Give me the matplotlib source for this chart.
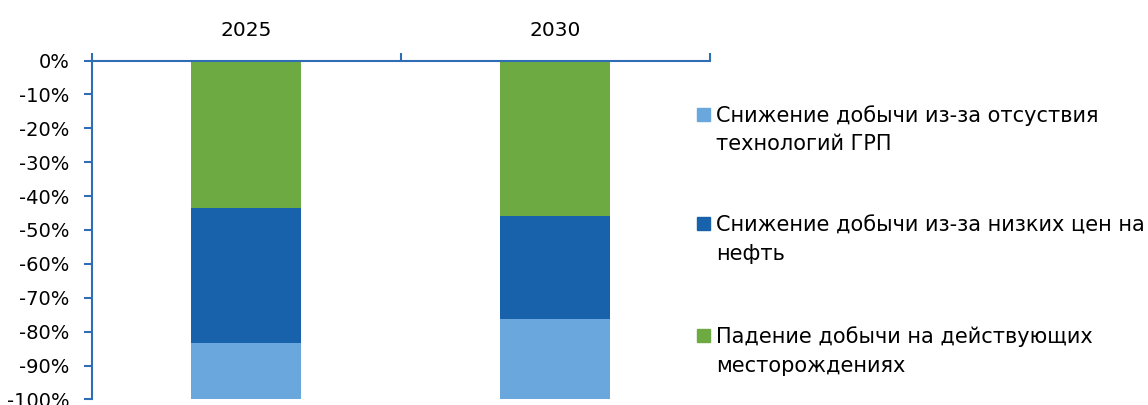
import matplotlib.pyplot as plt
from matplotlib.ticker import FuncFormatter
from matplotlib.patches import Rectangle

years = ['2025', '2030']
# доли падения добычи, %
fall_existing = [-43.6, -45.9]      # Падение добычи на действующих месторождениях
low_prices = [-39.6, -30.4]         # Снижение добычи из-за низких цен на нефть
no_frac = [-16.8, -23.7]            # Снижение добычи из-за отсуствия технологий ГРП

labels = ['Снижение добычи из-за отсуствия\nтехнологий ГРП',
          'Снижение добычи из-за низких цен на\nнефть',
          'Падение добычи на действующих\nместорождениях']
colors = ['#69A7DC', '#1762AB', '#6EAA42']
axis_color = '#2F6DB5'

plt.rcParams['font.family'] = ['DejaVu Sans']

W, H = 1148, 405
fig = plt.figure(figsize=(W / 100, H / 100), dpi=100)
ax = fig.add_axes([0.0799, 0.0136, 0.5386, 0.837])

x = range(len(years))
w = 0.356
ax.bar(x, fall_existing, w, color=colors[2])
bottom2 = fall_existing
ax.bar(x, low_prices, w, bottom=bottom2, color=colors[1])
bottom3 = [a + b for a, b in zip(fall_existing, low_prices)]
ax.bar(x, no_frac, w, bottom=bottom3, color=colors[0])

ax.set_xlim(-0.5, 1.5)
ax.set_ylim(-100, 0)
ax.set_yticks(range(-100, 1, 10))
ax.yaxis.set_major_formatter(FuncFormatter(lambda v, p: '%d%%' % v))

ax.xaxis.tick_top()
ax.set_xticks(list(x))
ax.set_xticklabels(years)
ax.set_xticks([-0.5, 0.5, 1.5], minor=True)
ax.tick_params(axis='x', which='major', length=0, pad=14.5, labelsize=14.5)
ax.tick_params(axis='x', which='minor', length=6, width=1.5, color=axis_color, direction='out')
ax.tick_params(axis='y', length=6, width=1.5, color=axis_color, pad=10, labelsize=14)

for s in ['right', 'bottom']:
    ax.spines[s].set_visible(False)
for s in ['left', 'top']:
    ax.spines[s].set_color(axis_color)
    ax.spines[s].set_linewidth(1.5)

# легенда справа: квадрат на уровне первой строки
entry_y = [114, 224, 335]
for lab, c, yy in zip(labels, colors, entry_y):
    fig.add_artist(Rectangle((697 / W, 1 - (yy + 6.5) / H), 13 / W, 13 / H,
                             transform=fig.transFigure, color=c))
    for i, line in enumerate(lab.split('\n')):
        fig.text(716 / W, 1 - (yy + i * 28.5) / H, line, fontsize=15,
                 va='center_baseline', ha='left')

plt.savefig('out.png', dpi=100)
